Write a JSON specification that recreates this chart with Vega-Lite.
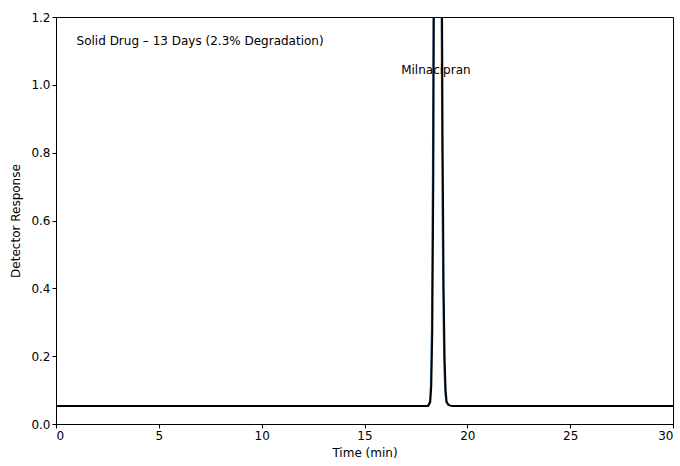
{
  "$schema": "https://vega.github.io/schema/vega-lite/v6.json",
  "width": 617,
  "height": 407,
  "autosize": {"type": "none"},
  "padding": {"left": 56, "top": 17, "right": 7, "bottom": 42},
  "background": "white",
  "config": {
    "view": {"stroke": "#000", "strokeWidth": 1},
    "font": "DejaVu Sans",
    "axis": {
      "grid": false,
      "domainColor": "#000",
      "tickColor": "#000",
      "tickSize": 4,
      "labelColor": "#000",
      "titleColor": "#000",
      "labelFontSize": 12,
      "titleFontSize": 12,
      "titleFontWeight": "normal",
      "labelFont": "DejaVu Sans",
      "titleFont": "DejaVu Sans"
    }
  },
  "datasets": {
    "blue": [
      {"t": 0, "r": 0.053}, {"t": 18.0, "r": 0.053}, {"t": 18.07, "r": 0.053}, {"t": 18.17, "r": 0.064},
      {"t": 18.22, "r": 0.109}, {"t": 18.27, "r": 0.273}, {"t": 18.32, "r": 0.73}, {"t": 18.37, "r": 1.68},
      {"t": 18.42, "r": 3.09}, {"t": 18.47, "r": 4.47}, {"t": 18.52, "r": 5.05}, {"t": 18.57, "r": 4.7},
      {"t": 18.62, "r": 3.77}, {"t": 18.67, "r": 2.62}, {"t": 18.72, "r": 1.59}, {"t": 18.77, "r": 0.84},
      {"t": 18.82, "r": 0.403}, {"t": 18.87, "r": 0.188}, {"t": 18.92, "r": 0.097}, {"t": 18.97, "r": 0.065},
      {"t": 19.07, "r": 0.056}, {"t": 19.17, "r": 0.054}, {"t": 19.27, "r": 0.053}, {"t": 30, "r": 0.053}
    ],
    "black": [
      {"t": 0, "r": 0.053}, {"t": 18.0, "r": 0.053}, {"t": 18.1, "r": 0.053}, {"t": 18.2, "r": 0.064},
      {"t": 18.25, "r": 0.109}, {"t": 18.3, "r": 0.273}, {"t": 18.35, "r": 0.73}, {"t": 18.4, "r": 1.68},
      {"t": 18.45, "r": 3.09}, {"t": 18.5, "r": 4.47}, {"t": 18.55, "r": 5.05}, {"t": 18.6, "r": 4.7},
      {"t": 18.65, "r": 3.77}, {"t": 18.7, "r": 2.62}, {"t": 18.75, "r": 1.59}, {"t": 18.8, "r": 0.84},
      {"t": 18.85, "r": 0.403}, {"t": 18.9, "r": 0.188}, {"t": 18.95, "r": 0.097}, {"t": 19.0, "r": 0.065},
      {"t": 19.1, "r": 0.056}, {"t": 19.2, "r": 0.054}, {"t": 19.3, "r": 0.053}, {"t": 30, "r": 0.053}
    ],
    "labels": [
      {"t": 1.0, "r": 1.13, "label": "Solid Drug \u2013 13 Days (2.3% Degradation)", "align": "left"},
      {"t": 18.47, "r": 1.044, "label": "Milnacipran", "align": "center"}
    ]
  },
  "layer": [
    {
      "data": {"name": "blue"},
      "mark": {"type": "line", "color": "#1f4e79", "strokeWidth": 1.8, "clip": true},
      "encoding": {
        "x": {"field": "t", "type": "quantitative", "scale": {"domain": [0, 30], "nice": false},
              "axis": {"values": [0, 5, 10, 15, 20, 25, 30], "title": "Time (min)", "titlePadding": 6}},
        "y": {"field": "r", "type": "quantitative", "scale": {"domain": [0, 1.2], "nice": false},
              "axis": {"values": [0, 0.2, 0.4, 0.6, 0.8, 1.0, 1.2], "format": ".1f", "title": "Detector Response", "titlePadding": 8}}
      }
    },
    {
      "data": {"name": "black"},
      "mark": {"type": "line", "color": "#000", "strokeWidth": 1.8, "clip": true},
      "encoding": {
        "x": {"field": "t", "type": "quantitative"},
        "y": {"field": "r", "type": "quantitative"}
      }
    },
    {
      "data": {"name": "labels"},
      "transform": [{"filter": "datum.align == 'left'"}],
      "mark": {"type": "text", "align": "left", "baseline": "middle", "fontSize": 12, "font": "DejaVu Sans", "color": "#000"},
      "encoding": {
        "x": {"field": "t", "type": "quantitative"},
        "y": {"field": "r", "type": "quantitative"},
        "text": {"field": "label"}
      }
    },
    {
      "data": {"name": "labels"},
      "transform": [{"filter": "datum.align == 'center'"}],
      "mark": {"type": "text", "align": "center", "baseline": "middle", "fontSize": 12, "font": "DejaVu Sans", "color": "#000"},
      "encoding": {
        "x": {"field": "t", "type": "quantitative"},
        "y": {"field": "r", "type": "quantitative"},
        "text": {"field": "label"}
      }
    }
  ]
}
